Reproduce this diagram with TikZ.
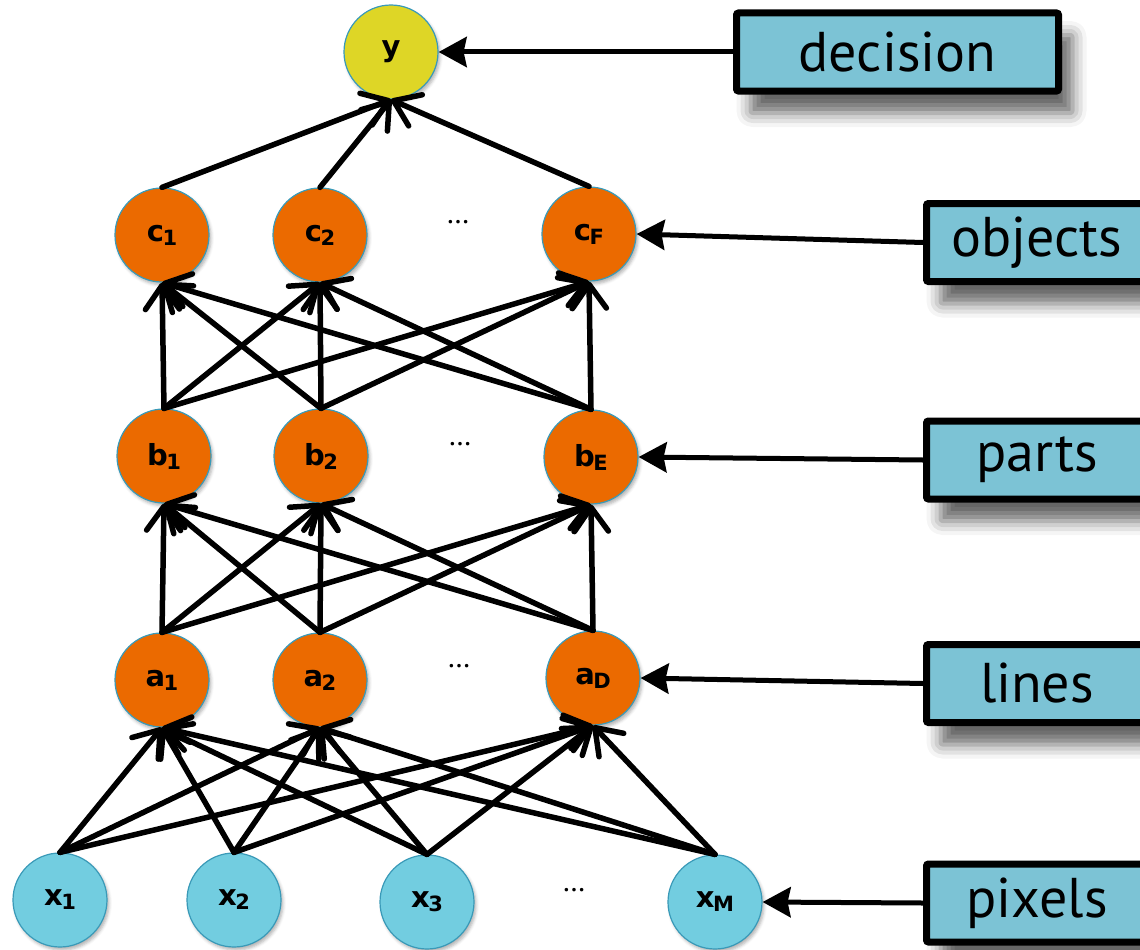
\documentclass[tikz,border=0pt]{standalone}
\usepackage{fontspec}
\setmainfont{PT Sans}
\newfontfamily\unitfont{DejaVu Sans}
\usetikzlibrary{arrows.meta,shadows.blur}

\definecolor{pixelblue}{RGB}{114,205,224}
\definecolor{hiddenorange}{RGB}{235,106,0}
\definecolor{outyellow}{RGB}{222,214,38}
\definecolor{rimteal}{RGB}{58,154,184}
\definecolor{tagblue}{RGB}{124,195,213}

\newcommand{\unitlab}[2]{{\unitfont\bfseries\fontsize{29}{29}\selectfont #1\kern-1.5pt\raisebox{-4pt}{\fontsize{21}{21}\selectfont #2}}}

\tikzset{
  unit/.style={circle, draw=rimteal, line width=1.2pt, minimum size=94pt, inner sep=0pt,
    blur shadow={shadow xshift=2pt, shadow yshift=-3pt, shadow blur radius=3pt, shadow opacity=30}},
  pixelunit/.style={unit, fill=pixelblue},
  hiddenunit/.style={unit, fill=hiddenorange},
  outunit/.style={unit, fill=outyellow},
  tag/.style={draw=black, fill=tagblue, line width=7pt, rounded corners=2pt, inner sep=0pt,
    minimum height=78pt, font=\fontsize{56}{56}\selectfont,
    blur shadow={shadow xshift=14pt, shadow yshift=-22pt, shadow blur radius=14pt, shadow opacity=60}},
  link/.style={line width=5.5pt, line cap=round, -{Straight Barb[length=24pt,width=34pt,round]}},
  pointer/.style={line width=5pt, -{Stealth[length=28pt,width=30pt,inset=3pt]}},
  skip/.style={font=\fontsize{30}{30}\selectfont}
}

\begin{document}
\begin{tikzpicture}[x=1pt,y=1pt,yscale=-1]
\useasboundingbox (0,0) rectangle (1140,950);

%Pixels
\node[pixelunit] (x1) at (60,900) {\unitlab{x}{1}};
\node[pixelunit] (x2) at (234,900) {\unitlab{x}{2}};
\node[pixelunit] (x3) at (427,902) {\unitlab{x}{3}};
\node[skip] (xdots) at (574,890) {\dots};
\node[pixelunit] (xM) at (715,902) {\unitlab{x}{M}};

%Lines
\node[hiddenunit] (a1) at (162,680) {\unitlab{a}{1}};
\node[hiddenunit] (a2) at (320,680) {\unitlab{a}{2}};
\node[skip] (adots) at (459,666) {\dots};
\node[hiddenunit] (aD) at (593,678) {\unitlab{a}{D}};

%Parts
\node[hiddenunit] (b1) at (164,456) {\unitlab{b}{1}};
\node[hiddenunit] (b2) at (321,456) {\unitlab{b}{2}};
\node[skip] (bdots) at (460,444) {\dots};
\node[hiddenunit] (bE) at (591,457) {\unitlab{b}{E}};

%Objects
\node[hiddenunit] (c1) at (162,235) {\unitlab{c}{1}};
\node[hiddenunit] (c2) at (320,235) {\unitlab{c}{2}};
\node[skip] (cdots) at (458,222) {\dots};
\node[hiddenunit] (cF) at (589,234) {\unitlab{c}{F}};

%Decision
\node[outunit] (y) at (391,52) {{\unitfont\bfseries\fontsize{29}{29}\selectfont y}};

%Layer tags
\node[tag, minimum width=322pt] (decision) at (897.5,52) {decision};
\node[tag, minimum width=221pt] (objects) at (1037,242.5) {objects};
\node[tag, minimum width=221pt] (parts) at (1037,460) {parts};
\node[tag, minimum width=221pt] (lines) at (1037,683.5) {lines};
\node[tag, minimum width=221pt] (pixels) at (1037,903) {pixels};

%Connections between layers
\foreach \s in {x1,x2,x3,xM}
  \foreach \t in {a1,a2,aD}
    \draw[link] (\s.north) -- (\t.south);
\foreach \s in {a1,a2,aD}
  \foreach \t in {b1,b2,bE}
    \draw[link] (\s.north) -- (\t.south);
\foreach \s in {b1,b2,bE}
  \foreach \t in {c1,c2,cF}
    \draw[link] (\s.north) -- (\t.south);
\foreach \s in {c1,c2,cF}
  \draw[link] (\s.north) -- (y.south);

%Tag pointers
\draw[pointer] (decision.west) -- (y.east);
\draw[pointer] (objects.west) -- (cF.east);
\draw[pointer] (parts.west) -- (bE.east);
\draw[pointer] (lines.west) -- (aD.east);
\draw[pointer] (pixels.west) -- (xM.east);

\end{tikzpicture}
\end{document}
